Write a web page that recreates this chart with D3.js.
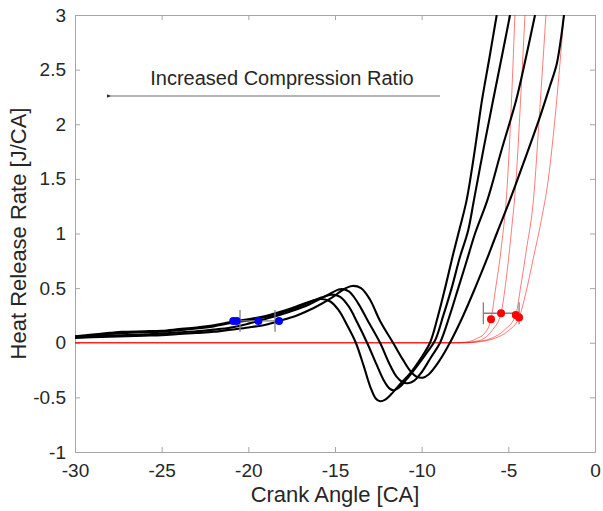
<!DOCTYPE html>
<html>
<head>
<meta charset="utf-8">
<script src="https://cdn.jsdelivr.net/npm/d3@7"></script>
<style>
  html, body { margin: 0; padding: 0; background: #fff; }
  svg { display: block; font-family: "Liberation Sans", Arial, Helvetica, sans-serif; }
</style>
</head>
<body>
<svg id="chart" width="603" height="511"></svg>
<script>
// Axis ticks
const xTicks = [-30, -25, -20, -15, -10, -5, 0];
const yTicks = [-1, -0.5, 0, 0.5, 1, 1.5, 2, 2.5, 3];

// Measured heat release rate traces, [crank angle, J/CA]
const measured1 = [[-30,0.06],[-29,0.075],[-28,0.09],[-27.3,0.1],[-26,0.105],[-25,0.11],[-24,0.125],[-23,0.14],[-22,0.16],[-21,0.19],[-20,0.215],[-19,0.245],[-18,0.29],[-17,0.345],[-16.3,0.385],[-15.8,0.40],[-15.3,0.38],[-14.8,0.30],[-14.3,0.16],[-13.8,0.0],[-13.35,-0.21],[-12.95,-0.41],[-12.65,-0.51],[-12.4,-0.535],[-12.1,-0.52],[-11.75,-0.47],[-11.2,-0.37],[-10.67,-0.28],[-10.0,-0.13],[-9.52,0.0],[-9.1,0.22],[-8.65,0.5],[-8.2,0.8],[-7.8,1.05],[-7.4,1.31],[-6.9,1.8],[-6.54,2.2],[-6.1,2.6],[-5.67,3.0]];
const measured2 = [[-30,0.055],[-29,0.065],[-28,0.08],[-27,0.09],[-26,0.095],[-25,0.1],[-24,0.115],[-23,0.13],[-22,0.15],[-21,0.18],[-20,0.205],[-19,0.235],[-18,0.28],[-17,0.335],[-16,0.4],[-15.2,0.44],[-14.7,0.42],[-14.2,0.33],[-13.7,0.18],[-13.15,0.0],[-12.6,-0.2],[-12.2,-0.34],[-11.85,-0.42],[-11.6,-0.435],[-11.3,-0.41],[-10.9,-0.34],[-10.3,-0.22],[-9.7,-0.09],[-9.23,0.02],[-8.75,0.25],[-8.27,0.5],[-7.8,0.78],[-7.33,1.02],[-6.98,1.31],[-6.4,1.8],[-5.88,2.22],[-5.4,2.6],[-4.9,3.0]];
const measured3 = [[-30,0.05],[-29,0.055],[-28,0.065],[-27,0.07],[-26,0.075],[-25,0.085],[-24,0.095],[-23,0.105],[-22,0.12],[-21,0.14],[-20,0.175],[-19.4,0.2],[-18.5,0.24],[-17.5,0.29],[-16.5,0.35],[-15.5,0.43],[-14.7,0.49],[-14.2,0.47],[-13.7,0.37],[-13.1,0.2],[-12.4,0.0],[-11.9,-0.18],[-11.45,-0.31],[-11.1,-0.36],[-10.8,-0.37],[-10.45,-0.35],[-10.0,-0.27],[-9.45,-0.13],[-8.94,0.0],[-8.4,0.24],[-7.89,0.5],[-7.4,0.75],[-6.92,1.0],[-6.2,1.31],[-5.4,1.76],[-4.55,2.22],[-4.0,2.6],[-3.46,3.0]];
const measured4 = [[-30,0.045],[-29,0.05],[-28,0.055],[-27,0.06],[-26,0.065],[-25,0.07],[-24,0.08],[-23,0.09],[-22,0.1],[-21,0.12],[-20,0.14],[-19,0.165],[-18.2,0.2],[-17.2,0.25],[-16.2,0.32],[-15.2,0.41],[-14.5,0.49],[-14.0,0.52],[-13.5,0.5],[-13.0,0.4],[-12.4,0.2],[-11.65,0.0],[-11.1,-0.15],[-10.65,-0.26],[-10.3,-0.31],[-9.95,-0.32],[-9.6,-0.29],[-9.0,-0.17],[-8.37,0.0],[-7.6,0.25],[-6.92,0.5],[-6.25,0.76],[-5.67,1.0],[-4.9,1.31],[-4.0,1.7],[-3.17,2.07],[-2.6,2.35],[-2.21,2.55],[-1.95,2.8],[-1.79,3.0]];

// Modelled traces, [crank angle, J/CA]
const model1 = [[-30,0],[-8.0,0],[-7.3,0.01],[-6.8,0.04],[-6.35,0.09],[-6.0,0.215],[-5.75,0.48],[-5.4,0.88],[-5.06,1.45],[-4.85,2.1],[-4.62,3.0]];
const model2 = [[-30,0],[-7.8,0],[-7.0,0.01],[-6.4,0.04],[-5.9,0.12],[-5.42,0.27],[-5.15,0.55],[-4.85,0.98],[-4.55,1.5],[-4.3,2.2],[-4.04,3.0]];
const model3 = [[-30,0],[-7.6,0],[-6.8,0.01],[-6.0,0.04],[-5.2,0.12],[-4.57,0.254],[-4.3,0.5],[-3.95,0.86],[-3.55,1.31],[-3.2,2.1],[-2.83,3.0]];
const model4 = [[-30,0],[-7.4,0],[-6.6,0.01],[-5.8,0.04],[-5.0,0.11],[-4.38,0.23],[-4.0,0.45],[-3.55,0.78],[-3.1,1.12],[-2.69,1.5],[-2.25,2.15],[-1.79,3.0]];

// Start-of-combustion points and their spread
const measuredOnset = [[-20.87,0.2],[-20.67,0.2],[-19.42,0.2],[-18.23,0.2]];
const modelOnset = [[-6.0,0.215],[-5.42,0.27],[-4.57,0.254],[-4.38,0.23]];
const measuredSpread = { lo: -20.48, hi: -18.46, y: 0.2, half: 0.1 };
const modelSpread = { lo: -6.44, hi: -4.38, y: 0.27, half: 0.1 };

const W = 603, H = 511;
const m = { left: 75, top: 15, right: 8, bottom: 59 };
const svg = d3.select("#chart");

const x = d3.scaleLinear().domain([-30, 0]).range([m.left, W - m.right]);
const y = d3.scaleLinear().domain([-1, 3]).range([H - m.bottom, m.top]);

const axisColor = "#a6a6a6";
const textColor = "#262626";

const defs = svg.append("defs");
defs.append("clipPath").attr("id", "plotClip").append("rect")
  .attr("x", x(-30)).attr("y", y(3)).attr("width", x(0) - x(-30)).attr("height", y(-1) - y(3));

// Axes with inward ticks on all four sides
function styleAxis(g) {
  g.select(".domain").attr("stroke", axisColor);
  g.selectAll(".tick line").attr("stroke", axisColor);
  g.selectAll(".tick text").attr("fill", textColor).attr("font-size", 19);
}
const fmt = d => String(d);

svg.append("g").attr("transform", `translate(0,${y(-1)})`)
  .call(d3.axisBottom(x).tickValues(xTicks).tickSizeInner(-5).tickSizeOuter(0).tickPadding(12).tickFormat(fmt))
  .call(styleAxis);
svg.append("g").attr("transform", `translate(0,${y(3)})`)
  .call(d3.axisTop(x).tickValues(xTicks).tickSizeInner(-5).tickSizeOuter(0).tickFormat(""))
  .call(styleAxis);
svg.append("g").attr("transform", `translate(${x(-30)},0)`)
  .call(d3.axisLeft(y).tickValues(yTicks).tickSizeInner(-5).tickSizeOuter(0).tickPadding(9).tickFormat(fmt))
  .call(styleAxis);
svg.append("g").attr("transform", `translate(${x(0)},0)`)
  .call(d3.axisRight(y).tickValues(yTicks).tickSizeInner(-5).tickSizeOuter(0).tickFormat(""))
  .call(styleAxis);

const plot = svg.append("g").attr("clip-path", "url(#plotClip)");
const redLine = d3.line().x(d => x(d[0])).y(d => y(d[1])).curve(d3.curveMonotoneX);
const blackLine = d3.line().x(d => x(d[0])).y(d => y(d[1])).curve(d3.curveCatmullRom.alpha(0.5));

// Modelled traces (thin red)
[model1, model2, model3, model4].forEach(s => {
  plot.append("path").datum(s).attr("d", redLine)
    .attr("fill", "none").attr("stroke", "#ff0000").attr("stroke-width", 0.8).attr("stroke-opacity", 0.65);
});

// Measured traces (black)
[measured1, measured2, measured3, measured4].forEach(s => {
  plot.append("path").datum(s).attr("d", blackLine)
    .attr("fill", "none").attr("stroke", "#000").attr("stroke-width", 2.1).attr("stroke-linejoin", "round");
});

// Spread bars
function spread(sp) {
  const g = svg.append("g").attr("stroke", "#808080").attr("stroke-width", 1.3);
  g.append("line").attr("x1", x(sp.lo)).attr("x2", x(sp.hi)).attr("y1", y(sp.y)).attr("y2", y(sp.y));
  [sp.lo, sp.hi].forEach(v => g.append("line").attr("x1", x(v)).attr("x2", x(v))
    .attr("y1", y(sp.y - sp.half)).attr("y2", y(sp.y + sp.half)));
}
spread(measuredSpread);
spread(modelSpread);

svg.append("g").selectAll("circle").data(measuredOnset).join("circle")
  .attr("cx", d => x(d[0])).attr("cy", d => y(d[1])).attr("r", 4).attr("fill", "#0000ff");
svg.append("g").selectAll("circle").data(modelOnset).join("circle")
  .attr("cx", d => x(d[0])).attr("cy", d => y(d[1])).attr("r", 4).attr("fill", "#ff0000");

// Annotation arrow
svg.append("text").attr("x", 282).attr("y", 85).attr("text-anchor", "middle")
  .attr("font-size", 20).attr("fill", textColor).text("Increased Compression Ratio");
defs.append("marker").attr("id", "arrowHead").attr("viewBox", "0 0 10 10")
  .attr("refX", 1).attr("refY", 5).attr("markerWidth", 6).attr("markerHeight", 6)
  .attr("orient", "auto-start-reverse")
  .append("path").attr("d", "M10,1 L0,5 L10,9 Z").attr("fill", "#333");
svg.append("line").attr("x1", 440).attr("x2", 111).attr("y1", 96).attr("y2", 96)
  .attr("stroke", "#444").attr("stroke-width", 0.8).attr("marker-end", "url(#arrowHead)");

// Axis titles
svg.append("text").attr("x", (x(-30) + x(0)) / 2).attr("y", 502).attr("text-anchor", "middle")
  .attr("font-size", 22).attr("fill", textColor).text("Crank Angle [CA]");
svg.append("text").attr("transform", `translate(26,${(y(-1) + y(3)) / 2}) rotate(-90)`)
  .attr("text-anchor", "middle").attr("font-size", 22).attr("fill", textColor).text("Heat Release Rate [J/CA]");
</script>
</body>
</html>
